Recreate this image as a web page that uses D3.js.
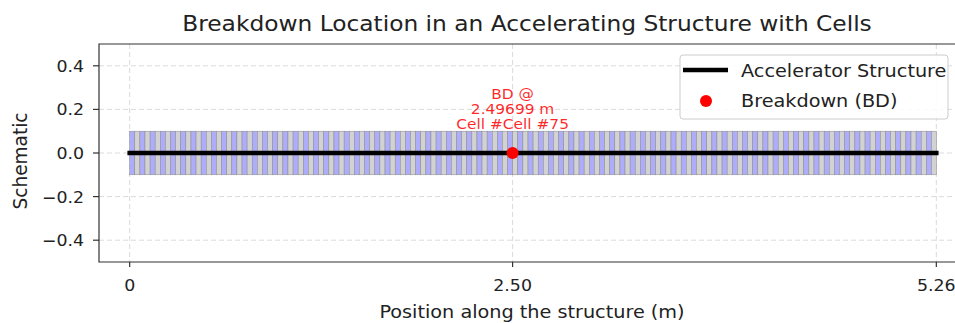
<!DOCTYPE html>
<html>
<head>
<meta charset="utf-8">
<script src="https://cdn.jsdelivr.net/npm/d3@7"></script>
<style>
  body { margin: 0; background: #fff; }
  svg { display: block; font-family: "DejaVu Sans", sans-serif; }
</style>
</head>
<body>
<div id="chart"></div>
<script>
// structure + breakdown values
const structureLength = 5.26;
const cellLength = 0.0333;
const cellCount = 158;
const breakdownPos = 2.49699;
const breakdownCell = "Cell #75";
const xTicks = [0, breakdownPos, structureLength];
const xTickLabels = ["0", "2.50", "5.26"];
const yTicks = [-0.4, -0.2, 0.0, 0.2, 0.4];
const yTickLabels = ["\u22120.4", "\u22120.2", "0.0", "0.2", "0.4"];
const legendItems = ["Accelerator Structure", "Breakdown (BD)"];

const width = 955, height = 323;
const marginLeft = 99, marginTop = 44, marginBottom = 61;
const plotRight = 967;
const sx = 1.1; // the picture is a bit wider than tall, text gets stretched too

const svg = d3.select("#chart").append("svg")
  .attr("width", width)
  .attr("height", height);

const x = d3.scaleLinear().domain([-0.2, 5.46]).range([marginLeft, plotRight]);
const y = d3.scaleLinear().domain([-0.5, 0.5]).range([height - marginBottom, marginTop]);

function label(parent, tx, ty, str, size, anchor, rot) {
  return parent.append("text")
    .attr("transform", `translate(${tx},${ty})` + (rot ? ` rotate(${rot}) scale(1,1.05)` : ` scale(${sx},1)`))
    .attr("text-anchor", anchor || "middle")
    .attr("font-size", size)
    .attr("fill", "#222")
    .text(str);
}

// title
label(svg, 527, 31, "Breakdown Location in an Accelerating Structure with Cells", 21.2);

// grid
const grid = svg.append("g")
  .attr("stroke", "#b0b0b0")
  .attr("stroke-opacity", 0.5)
  .attr("stroke-dasharray", "5,3")
  .attr("stroke-width", 0.9);

grid.selectAll(".gx").data(xTicks).join("line")
  .attr("x1", d => x(d)).attr("x2", d => x(d))
  .attr("y1", y(0.5)).attr("y2", y(-0.5));

grid.selectAll(".gy").data(yTicks).join("line")
  .attr("x1", marginLeft).attr("x2", plotRight)
  .attr("y1", d => y(d)).attr("y2", d => y(d));

// cells
const cells = d3.range(cellCount).map(i => ({i, x0: i * cellLength}));
svg.append("g").selectAll("rect").data(cells).join("rect")
  .attr("x", d => x(d.x0))
  .attr("y", y(0.1))
  .attr("width", x(cellLength) - x(0))
  .attr("height", y(-0.1) - y(0.1))
  .attr("fill", d => d.i % 2 === 0 ? "#adadfc" : "#d2d2d2")
  .attr("stroke", "#8a8a8a")
  .attr("stroke-width", 0.5);

// structure line
svg.append("line")
  .attr("x1", x(0)).attr("x2", x(structureLength))
  .attr("y1", y(0)).attr("y2", y(0))
  .attr("stroke", "black")
  .attr("stroke-width", 4.5)
  .attr("stroke-linecap", "square");

// breakdown point
svg.append("circle")
  .attr("cx", x(breakdownPos)).attr("cy", y(0))
  .attr("r", 6)
  .attr("fill", "red");

["BD @", breakdownPos + " m", "Cell #" + breakdownCell].forEach((t, i) => {
  label(svg, x(breakdownPos), 99 + i * 15, t, 14)
    .attr("fill", "red")
    .attr("fill-opacity", 0.85);
});

// spines
svg.append("path")
  .attr("d", `M${plotRight},${y(0.5)}H${marginLeft}V${y(-0.5)}H${plotRight}`)
  .attr("fill", "none")
  .attr("stroke", "#333")
  .attr("stroke-width", 1.2);

// ticks
const tickG = svg.append("g").attr("stroke", "#333").attr("stroke-width", 1.2);
tickG.selectAll(".tx").data(xTicks).join("line")
  .attr("x1", d => x(d)).attr("x2", d => x(d))
  .attr("y1", y(-0.5)).attr("y2", y(-0.5) + 5);
tickG.selectAll(".ty").data(yTicks).join("line")
  .attr("x1", marginLeft - 6).attr("x2", marginLeft)
  .attr("y1", d => y(d)).attr("y2", d => y(d));

xTicks.forEach((d, i) => label(svg, x(d), 291, xTickLabels[i], 15.8));
yTicks.forEach((d, i) => label(svg, 84, y(d) + 6, yTickLabels[i], 15.8, "end"));

label(svg, 532, 318, "Position along the structure (m)", 17.5);
label(svg, 27, y(0) + 8, "Schematic", 18.5, "middle", -90);

// legend
const legend = svg.append("g").attr("transform", "translate(680,55)");
legend.append("rect")
  .attr("width", 268).attr("height", 64).attr("rx", 3)
  .attr("fill", "white").attr("fill-opacity", 0.85)
  .attr("stroke", "#ccc");
legend.append("line")
  .attr("x1", 3).attr("x2", 48).attr("y1", 15).attr("y2", 15)
  .attr("stroke", "black").attr("stroke-width", 4.5);
legend.append("circle")
  .attr("cx", 26).attr("cy", 46).attr("r", 6).attr("fill", "red");
legendItems.forEach((t, i) => label(legend, 61, 22 + i * 30, t, 17.5, "start"));
</script>
</body>
</html>
